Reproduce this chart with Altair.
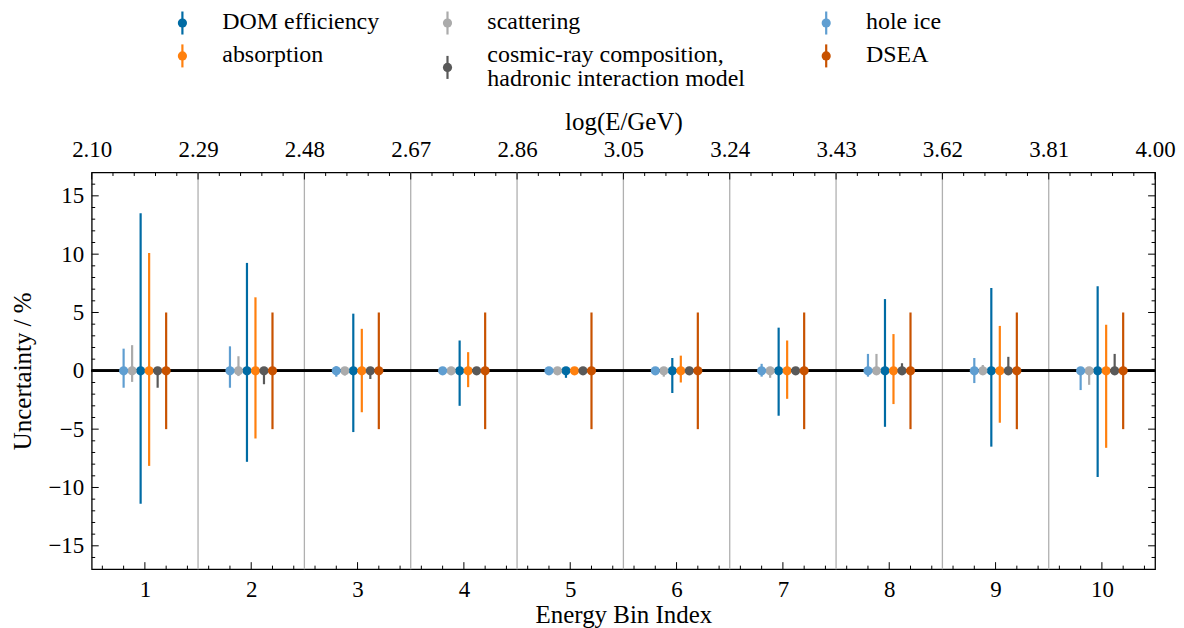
import altair as alt
import numpy as np
import pandas as pd

# ---------------- data ----------------
bins = [1, 2, 3, 4, 5, 6, 7, 8, 9, 10]
energy_edges = ["2.10", "2.29", "2.48", "2.67", "2.86", "3.05", "3.24", "3.43", "3.62", "3.81", "4.00"]

series = ["DOM efficiency", "absorption", "scattering",
          "cosmic-ray composition,\nhadronic interaction model", "hole ice", "DSEA"]
colors = ["#006BA4", "#FF800E", "#ABABAB", "#595959", "#5F9ED1", "#C85200"]
# horizontal order inside each bin (left -> right)
plot_order = ["hole ice", "scattering", "DOM efficiency", "absorption",
              "cosmic-ray composition,\nhadronic interaction model", "DSEA"]

dom_up = [13.5, 9.25, 4.9, 2.6, 0.1, 1.1, 3.7, 6.15, 7.1, 7.25]
dom_dn = [-11.4, -7.8, -5.25, -3.0, -0.6, -1.9, -3.85, -4.8, -6.5, -9.1]
abs_up = [10.1, 6.3, 3.6, 1.6, 0.1, 1.3, 2.6, 3.15, 3.85, 3.95]
abs_dn = [-8.15, -5.8, -3.55, -1.4, -0.3, -1.0, -2.4, -2.85, -4.45, -6.6]
scat_up = [2.2, 1.25, 0.1, 0.1, 0.1, 0.1, 0.3, 1.45, 0.5, 0.0]
scat_dn = [-0.95, -0.45, -0.4, -0.1, -0.3, -0.5, -0.6, -0.1, -0.1, -1.2]
cr_up = [0.0, 0.0, 0.0, 0.0, 0.0, 0.0, 0.0, 0.65, 1.2, 1.45]
cr_dn = [-1.45, -1.15, -0.7, -0.1, -0.1, 0.0, 0.0, 0.0, 0.0, 0.0]
hole_up = [1.9, 2.1, 0.4, 0.1, 0.1, 0.15, 0.6, 1.45, 1.1, 0.0]
hole_dn = [-1.45, -1.45, -0.5, -0.1, -0.1, -0.2, -0.5, -0.5, -1.05, -1.65]
dsea_up = [5.0, 5.0, 5.0, 5.0, 5.0, 5.0, 5.0, 5.0, 5.0, 5.0]
dsea_dn = [-5.0, -5.0, -5.0, -5.0, -5.0, -5.0, -5.0, -5.0, -5.0, -5.0]

ups = {series[0]: dom_up, series[1]: abs_up, series[2]: scat_up,
       series[3]: cr_up, series[4]: hole_up, series[5]: dsea_up}
dns = {series[0]: dom_dn, series[1]: abs_dn, series[2]: scat_dn,
       series[3]: cr_dn, series[4]: hole_dn, series[5]: dsea_dn}

# ---------------- tables ----------------
offsets = np.linspace(-0.2, 0.2, len(plot_order))
rows = []
for s in series:
    off = offsets[plot_order.index(s)]
    for i, b in enumerate(bins):
        rows.append({"series": s, "x": b + off, "lo": dns[s][i], "hi": ups[s][i], "val": 0.0})
df = pd.DataFrame(rows)

edges = pd.DataFrame({"e": [b + 0.5 for b in bins[:-1]]})
top_vals = [bins[0] - 0.5 + k for k in range(len(energy_edges))]
label_expr = "[" + ",".join("'%s'" % t for t in energy_edges) + "][round(datum.value - %g)]" % (bins[0] - 0.5)

W, H = 1067, 398
FONT = "'Liberation Serif', 'Times New Roman', 'DejaVu Serif', serif"
FS = 23      # tick labels
FT = 25      # axis titles
FL = 24      # legend text
xdom = [bins[0] - 0.5, bins[-1] + 0.5]
ydom = [-17, 17]
xs = alt.Scale(domain=xdom, nice=False, zero=False)
ys = alt.Scale(domain=ydom, nice=False, zero=False)
cscale = alt.Scale(domain=series, range=colors)

# tick positions (axis decoration)
xmaj_b = pd.DataFrame({"t": bins})
xmin_b = pd.DataFrame({"t": [b + d for b in bins for d in (-0.4, -0.2, 0.2, 0.4)]})
xmaj_t = pd.DataFrame({"t": top_vals})
xmin_t = pd.DataFrame({"t": [v + d for v in top_vals[:-1] for d in (0.2, 0.4, 0.6, 0.8)]})
ymaj = pd.DataFrame({"t": list(range(-15, 16, 5))})
ymin = pd.DataFrame({"t": [v for v in range(-16, 17) if v % 5 != 0]})

# ---------------- main chart ----------------
sep = alt.Chart(edges).mark_rule(color="#b0b0b0", strokeWidth=1.3).encode(
    x=alt.X("e:Q", scale=xs,
            axis=alt.Axis(orient="top", values=top_vals, labelExpr=label_expr,
                          title="log(E/GeV)", ticks=False, domain=False, grid=False,
                          labelPadding=11, titlePadding=4, labelFlush=False))
)

zero = alt.Chart(edges).mark_rule(color="black", strokeWidth=2).encode(
    y=alt.Y(datum=0, scale=ys, axis=None))

bars = alt.Chart(df).mark_rule(strokeWidth=2.2).encode(
    x=alt.X("x:Q", scale=xs,
            axis=alt.Axis(orient="bottom", values=bins, title="Energy Bin Index",
                          ticks=False, domain=False, grid=False, labelPadding=9,
                          titlePadding=2, labelFlush=False)),
    y=alt.Y("lo:Q", scale=ys,
            axis=alt.Axis(orient="left", values=list(range(-15, 16, 5)), title="Uncertainty / %",
                          ticks=False, domain=False, grid=False, labelPadding=8,
                          titlePadding=12, labelFlush=False)),
    y2="hi:Q",
    color=alt.Color("series:N", scale=cscale, legend=None),
)

pts = alt.Chart(df).mark_circle(size=85, opacity=1).encode(
    x=alt.X("x:Q", scale=xs, axis=None),
    y=alt.Y("val:Q", scale=ys, axis=None),
    color=alt.Color("series:N", scale=cscale, legend=None),
)


def xticks(d, top, length):
    if top:
        yy, yy2 = alt.value(0), alt.value(length)
    else:
        yy, yy2 = alt.value(H), alt.value(H - length)
    return alt.Chart(d).mark_rule(color="black", strokeWidth=1).encode(
        x=alt.X("t:Q", scale=xs, axis=None), y=yy, y2=yy2)


def yticks(d, right, length):
    if right:
        xx, xx2 = alt.value(W), alt.value(W - length)
    else:
        xx, xx2 = alt.value(0), alt.value(length)
    return alt.Chart(d).mark_rule(color="black", strokeWidth=1).encode(
        y=alt.Y("t:Q", scale=ys, axis=None), x=xx, x2=xx2)


tick_layers = [
    xticks(xmaj_b, False, 7), xticks(xmin_b, False, 3.5),
    xticks(xmaj_t, True, 7), xticks(xmin_t, True, 3.5),
    yticks(ymaj, False, 7), yticks(ymin, False, 3.5),
    yticks(ymaj, True, 7), yticks(ymin, True, 3.5),
]

main = alt.layer(sep, zero, bars, pts, *tick_layers).resolve_axis(
    x="independent", y="independent"
).properties(width=W, height=H, view=alt.ViewBackground(stroke="black", strokeWidth=1.3))

# ---------------- legend panel ----------------
PLOT_LEFT = 91                 # page x of the plot area (legend panel shares it)
col_px = [182, 448, 828]       # legend column anchors (page px, layout only)
leg_rows = []
for i, s in enumerate(series):
    nlines = s.count("\n") + 1
    row = i % 2
    yc = row + 0.35 * (nlines - 1)
    leg_rows.append({"series": s, "cx": col_px[i // 2], "row": row, "yc": yc,
                     "y0": yc - 0.35, "y1": yc + 0.35})
leg = pd.DataFrame(leg_rows)

LW, LH = 1000, 90
unit_y = 33.0
lxs = alt.Scale(domain=[PLOT_LEFT, PLOT_LEFT + LW], nice=False, zero=False)
lys = alt.Scale(domain=[-13 / unit_y, -13 / unit_y + LH / unit_y], nice=False, zero=False, reverse=True)

lbar = alt.Chart(leg).mark_rule(strokeWidth=2.2).encode(
    x=alt.X("cx:Q", scale=lxs, axis=None),
    y=alt.Y("y0:Q", scale=lys, axis=None), y2="y1:Q",
    color=alt.Color("series:N", scale=cscale, legend=None))
ldot = alt.Chart(leg).mark_circle(size=85, opacity=1).encode(
    x=alt.X("cx:Q", scale=lxs, axis=None),
    y=alt.Y("yc:Q", scale=lys, axis=None),
    color=alt.Color("series:N", scale=cscale, legend=None))
ltext = alt.Chart(leg).mark_text(align="left", baseline="middle", dx=40, dy=-1, font=FONT,
                                 fontSize=FL, lineBreak="\n", lineHeight=24, color="black").encode(
    x=alt.X("cx:Q", scale=lxs, axis=None),
    y=alt.Y("row:Q", scale=lys, axis=None),
    text="series:N")

legend = alt.layer(lbar, ldot, ltext).properties(
    width=LW, height=LH, view=alt.ViewBackground(stroke="transparent"))

chart = alt.vconcat(legend, main, spacing=8).properties(
    padding={"left": 2, "top": 0, "right": 0, "bottom": 0}
).configure_axis(
    labelFont=FONT, titleFont=FONT, labelFontSize=FS, titleFontSize=FT,
    labelColor="black", titleColor="black", titleFontWeight="normal"
)

chart.save("out.html", embed_options={"renderer": "svg", "actions": False})
